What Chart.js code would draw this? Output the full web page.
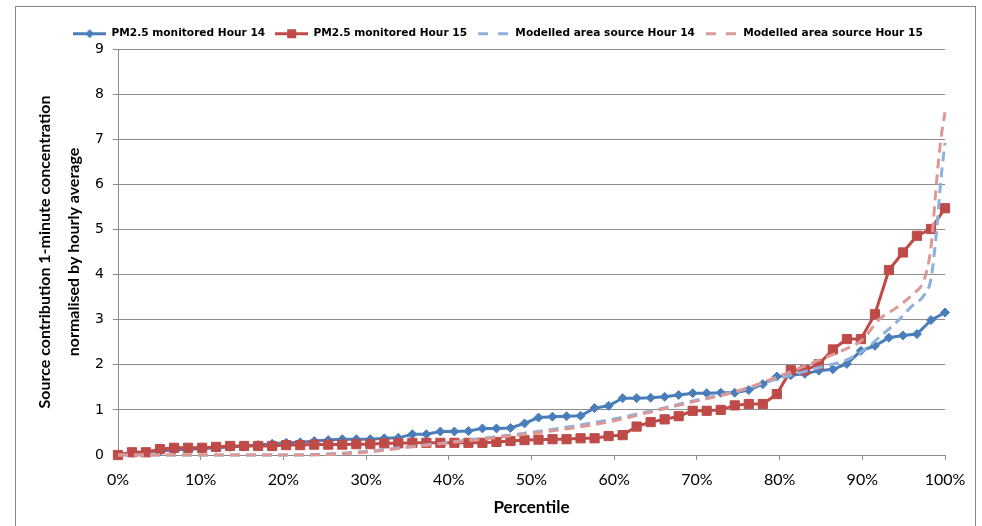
<!DOCTYPE html>
<html>
<head>
<meta charset="utf-8">
<script src="https://cdn.jsdelivr.net/npm/chart.js@4.4.1/dist/chart.umd.min.js"></script>
<style>
  html, body { margin: 0; padding: 0; background: #ffffff; }
  #wrap { width: 982px; height: 526px; position: relative; }
</style>
</head>
<body>
<div id="wrap"><canvas id="chart" width="982" height="526"></canvas></div>
<script>
// Series names shown in the legend
const seriesNames = [
  'PM2.5 monitored Hour 14',
  'PM2.5 monitored Hour 15',
  'Modelled area source Hour 14',
  'Modelled area source Hour 15'
];

// Monitored 1-minute values (60 minutes, sorted), normalised by the hourly average
const monitoredH14 = [
  0.00, 0.05, 0.07, 0.09, 0.11, 0.13, 0.14, 0.16, 0.18, 0.20,
  0.22, 0.25, 0.27, 0.28, 0.31, 0.33, 0.35, 0.35, 0.35, 0.37,
  0.38, 0.46, 0.46, 0.52, 0.52, 0.53, 0.59, 0.59, 0.60, 0.70,
  0.83, 0.85, 0.86, 0.87, 1.04, 1.09, 1.26, 1.26, 1.27, 1.29,
  1.33, 1.37, 1.37, 1.38, 1.38, 1.44, 1.57, 1.74, 1.77, 1.80,
  1.87, 1.90, 2.02, 2.31, 2.42, 2.60, 2.65, 2.68, 2.99, 3.16
];
const monitoredH15 = [
  0.00, 0.06, 0.06, 0.13, 0.16, 0.16, 0.16, 0.18, 0.20, 0.20,
  0.20, 0.20, 0.22, 0.22, 0.23, 0.23, 0.23, 0.24, 0.24, 0.26,
  0.26, 0.27, 0.27, 0.27, 0.27, 0.27, 0.27, 0.29, 0.31, 0.33,
  0.34, 0.35, 0.35, 0.37, 0.37, 0.42, 0.44, 0.63, 0.73, 0.79,
  0.86, 0.98, 0.98, 1.00, 1.10, 1.13, 1.13, 1.35, 1.88, 1.88,
  2.01, 2.34, 2.57, 2.57, 3.12, 4.10, 4.49, 4.86, 5.01, 5.47
];

// Modelled area-source curves, given at these percentiles
const modelPercentiles = [0, 10, 20, 25, 30, 35, 40, 45, 50, 55, 60, 65, 70, 75, 80, 85, 88, 90, 92, 94, 96, 97.5, 98.3, 99, 99.5, 100];
const modelledH14 = [0, 0, 0, 0.02, 0.08, 0.18, 0.28, 0.39, 0.50, 0.64, 0.80, 1.00, 1.22, 1.42, 1.70, 1.95, 2.10, 2.30, 2.60, 2.92, 3.30, 3.55, 3.90, 5.00, 6.10, 6.92];
const modelledH15 = [0, 0, 0, 0.01, 0.06, 0.17, 0.27, 0.37, 0.48, 0.60, 0.76, 0.98, 1.20, 1.42, 1.75, 2.12, 2.35, 2.55, 3.00, 3.25, 3.55, 3.90, 4.60, 6.10, 7.00, 7.60];

// Axis tick labels
const xTickLabels = ['0%', '10%', '20%', '30%', '40%', '50%', '60%', '70%', '80%', '90%', '100%'];
const yTickLabels = ['0', '1', '2', '3', '4', '5', '6', '7', '8', '9'];

const seriesColors = ['#4a7ebb', '#be4b48', '#8fb0dc', '#dc9896'];

// Percentile of each monitored minute (ranked 0 .. 59)
const minutePercentiles = monitoredH14.map((_, i) => i * 100 / (monitoredH14.length - 1));

const toPoints = (xs, ys) => ys.map((y, i) => ({ x: xs[i], y }));

// Small legend symbols: a line with its marker, or two dashes
function legendIcon(color, kind) {
  const c = document.createElement('canvas');
  c.width = 33; c.height = 13;
  const g = c.getContext('2d');
  g.strokeStyle = color;
  g.fillStyle = color;
  g.lineWidth = 3;
  g.beginPath();
  if (kind === 'dash') {
    g.moveTo(1, 6.5); g.lineTo(11, 6.5);
    g.moveTo(21, 6.5); g.lineTo(31, 6.5);
    g.stroke();
  } else {
    g.moveTo(0, 6.5); g.lineTo(33, 6.5);
    g.stroke();
    g.beginPath();
    if (kind === 'diamond') {
      g.moveTo(16.5, 2); g.lineTo(21, 6.5); g.lineTo(16.5, 11); g.lineTo(12, 6.5);
      g.closePath();
      g.fill();
    } else {
      g.fillRect(12, 2, 9, 9);
    }
  }
  return c;
}
const legendIcons = [
  legendIcon(seriesColors[0], 'diamond'),
  legendIcon(seriesColors[1], 'square'),
  legendIcon(seriesColors[2], 'dash'),
  legendIcon(seriesColors[3], 'dash')
];

// White background and outer frame of the chart
const framePlugin = {
  id: 'frame',
  beforeDraw(chart) {
    const ctx = chart.ctx;
    ctx.save();
    ctx.fillStyle = '#ffffff';
    ctx.fillRect(0, 0, chart.width, chart.height);
    ctx.strokeStyle = '#868686';
    ctx.lineWidth = 1;
    ctx.strokeRect(15.5, 6.5, 960, 540);
    ctx.restore();
  }
};

const gridGrey = '#8c8c8c';

new Chart(document.getElementById('chart'), {
  type: 'line',
  data: {
    datasets: [
      {
        label: seriesNames[0],
        data: toPoints(minutePercentiles, monitoredH14),
        borderColor: seriesColors[0],
        backgroundColor: seriesColors[0],
        borderWidth: 3,
        pointStyle: 'rectRot',
        pointRadius: 4.5,
        pointBorderWidth: 1,
        tension: 0,
        clip: false,
        order: 4
      },
      {
        label: seriesNames[1],
        data: toPoints(minutePercentiles, monitoredH15),
        borderColor: seriesColors[1],
        backgroundColor: seriesColors[1],
        borderWidth: 3,
        pointStyle: 'rect',
        pointRadius: 6.5,
        pointBorderWidth: 1,
        tension: 0,
        clip: false,
        order: 3
      },
      {
        label: seriesNames[2],
        data: toPoints(modelPercentiles, modelledH14),
        borderColor: seriesColors[2],
        backgroundColor: seriesColors[2],
        borderWidth: 3,
        borderDash: [10, 6],
        pointRadius: 0,
        cubicInterpolationMode: 'monotone',
        clip: false,
        order: 2
      },
      {
        label: seriesNames[3],
        data: toPoints(modelPercentiles, modelledH15),
        borderColor: seriesColors[3],
        backgroundColor: seriesColors[3],
        borderWidth: 3,
        borderDash: [10, 6],
        pointRadius: 0,
        cubicInterpolationMode: 'monotone',
        clip: false,
        order: 1
      }
    ]
  },
  options: {
    responsive: false,
    devicePixelRatio: 1,
    animation: false,
    events: [],
    layout: { padding: { left: 14, top: 3.5, right: 0, bottom: 0 } },
    plugins: {
      tooltip: { enabled: false },
      legend: {
        position: 'top',
        reverse: true,
        labels: {
          usePointStyle: true,
          pointStyleWidth: 33,
          padding: 10,
          color: '#000000',
          font: { family: 'DejaVu Sans', size: 10.6, weight: 'bold' },
          generateLabels(chart) {
            const items = Chart.defaults.plugins.legend.labels.generateLabels(chart);
            items.forEach(item => { item.pointStyle = legendIcons[item.datasetIndex]; });
            return items;
          }
        }
      }
    },
    scales: {
      x: {
        type: 'linear',
        min: 0,
        max: 100,
        afterFit(scale) { scale.height = 71; scale.paddingRight = 37; },
        border: { display: true, color: gridGrey, width: 1 },
        grid: { drawOnChartArea: false, drawTicks: true, tickLength: 5, color: gridGrey },
        ticks: {
          stepSize: 10,
          padding: 10,
          maxRotation: 0,
          color: '#000000',
          font: { family: 'Lato', size: 16 },
          callback: (v) => xTickLabels[Math.round(v / 10)]
        },
        title: {
          display: true,
          text: 'Percentile',
          color: '#000000',
          font: { family: 'Lato', size: 17, weight: 'bold', lineHeight: 1.2 },
          padding: { top: 0, bottom: 8 }
        }
      },
      y: {
        type: 'linear',
        min: 0,
        max: 9,
        afterFit(scale) { scale.width = 104; scale.paddingTop = 49; },
        border: { display: true, color: gridGrey, width: 1 },
        grid: { drawTicks: true, tickLength: 5, color: gridGrey },
        ticks: {
          stepSize: 1,
          padding: 9,
          color: '#000000',
          font: { family: 'DejaVu Sans', size: 14 },
          callback: (v) => yTickLabels[v]
        },
        title: {
          display: true,
          text: ['Source contribution 1-minute concentration', 'normalised by hourly average'],
          color: '#000000',
          font: { family: 'Lato', size: 16, weight: 'bold', lineHeight: '29px' },
          padding: { top: 16.5, bottom: 0 }
        }
      }
    }
  },
  plugins: [framePlugin]
});
</script>
</body>
</html>
